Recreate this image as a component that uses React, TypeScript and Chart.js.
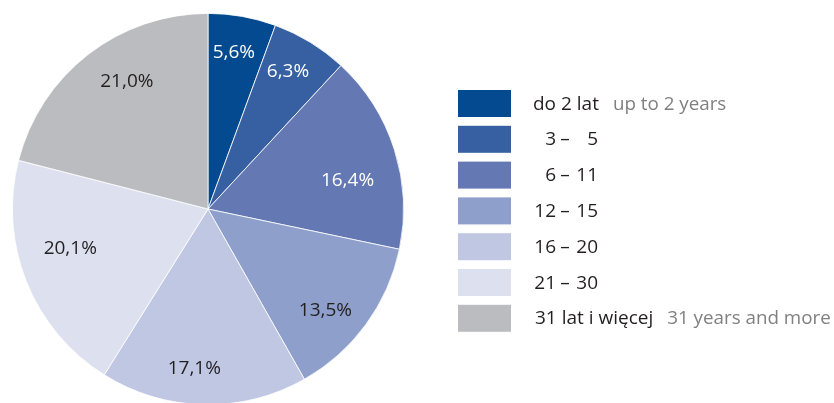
import React, { useEffect, useRef } from "react";
import { Chart, registerables } from "chart.js";

Chart.register(...registerables);

const categories = ["do 2 lat", "3 –   5", "6 – 11", "12 – 15", "16 – 20", "21 – 30", "31 lat i więcej"];
const englishLabels = ["up to 2 years", "", "", "", "", "", "31 years and more"];
const shares = [5.6, 6.3, 16.4, 13.5, 17.1, 20.1, 21.0];
const colors = ["#034a91", "#3660a2", "#6479b3", "#8d9fca", "#bfc7e2", "#dde1ef", "#bbbcc0"];
const labelColors = ["#ffffff", "#ffffff", "#ffffff", "#231f20", "#231f20", "#231f20", "#231f20"];

const FONT = "'Open Sans', 'DejaVu Sans', sans-serif";

const fmt = (v: number) => v.toFixed(1).replace(".", ",") + "%";

const sliceLabels = {
  id: "sliceLabels",
  afterDatasetsDraw(chart: any, _args: any, opts: any) {
    const ctx = chart.ctx;
    const meta = chart.getDatasetMeta(0);
    const angleFrac: number[] = opts.angleFrac || [];
    const radiusFrac: number[] = opts.radiusFrac || [];
    ctx.save();
    ctx.font = `19px ${FONT}`;
    ctx.textAlign = "center";
    ctx.textBaseline = "alphabetic";
    meta.data.forEach((arc: any, i: number) => {
      const { startAngle, endAngle, x, y, outerRadius } = arc.getProps(
        ["startAngle", "endAngle", "x", "y", "outerRadius"],
        true
      );
      const a = startAngle + (endAngle - startAngle) * (angleFrac[i] ?? 0.5);
      const r = outerRadius * (radiusFrac[i] ?? 0.79);
      const px = x + Math.cos(a) * r;
      const py = y + Math.sin(a) * r;
      ctx.fillStyle = labelColors[i];
      ctx.fillText(fmt(shares[i]), px, py + 7);
    });
    ctx.restore();
  },
};

const customLegend = {
  id: "customLegend",
  afterDraw(chart: any) {
    const ctx = chart.ctx;
    const boxX = 458;
    const boxW = 53;
    const boxH = 27;
    const top0 = 90;
    const step = 35.8;
    ctx.save();
    categories.forEach((cat, i) => {
      const top = top0 + i * step;
      ctx.fillStyle = colors[i];
      ctx.fillRect(boxX, top, boxW, boxH);
      const base = top + 19.5;
      ctx.font = `19px ${FONT}`;
      ctx.fillStyle = "#231f20";
      ctx.textBaseline = "alphabetic";
      let endX = 0;
      if (cat.includes("–")) {
        const parts = cat.split("–");
        const left = parts[0].trim();
        const right = parts[1].trim();
        ctx.textAlign = "right";
        ctx.fillText(left, 556, base);
        ctx.textAlign = "center";
        ctx.fillText("–", 565, base);
        ctx.textAlign = "right";
        ctx.fillText(right, 598, base);
        endX = 598;
      } else {
        const startX = i === 0 ? 533 : 535;
        ctx.textAlign = "left";
        ctx.fillText(cat, startX, base);
        endX = startX + ctx.measureText(cat).width;
      }
      const en = englishLabels[i];
      if (en) {
        ctx.font = `18.8px ${FONT}`;
        ctx.fillStyle = "#808080";
        ctx.textAlign = "left";
        ctx.fillText(en, endX + 14, base);
      }
    });
    ctx.restore();
  },
};

export default function App() {
  const canvasRef = useRef<HTMLCanvasElement | null>(null);

  useEffect(() => {
    document.body.style.margin = "0";
    const canvas = canvasRef.current;
    if (!canvas) return;
    const chart = new Chart(canvas, {
      type: "pie",
      data: {
        labels: categories,
        datasets: [
          {
            data: shares,
            backgroundColor: colors,
            borderColor: "#ffffff",
            borderWidth: 0.8,
            hoverOffset: 0,
            offset: 0,
          },
        ],
      },
      options: {
        responsive: false,
        animation: false,
        devicePixelRatio: 1,
        layout: { padding: { left: 12, top: 13, right: 430, bottom: 15 } },
        plugins: {
          legend: { display: false },
          tooltip: { enabled: false },
          sliceLabels: {
            angleFrac: [0.46, 0.43, 0.59, 0.59, 0.56, 0.59, 0.575],
            radiusFrac: [0.82, 0.82, 0.73, 0.79, 0.81, 0.73, 0.78],
          },
        } as any,
      },
      plugins: [sliceLabels, customLegend],
    });
    return () => chart.destroy();
  }, []);

  return (
    <div style={{ position: "relative", width: 834, height: 403, overflow: "hidden", background: "#fff" }}>
      <canvas ref={canvasRef} width={834} height={420} style={{ display: "block", width: 834, height: 420 }} />
    </div>
  );
}
